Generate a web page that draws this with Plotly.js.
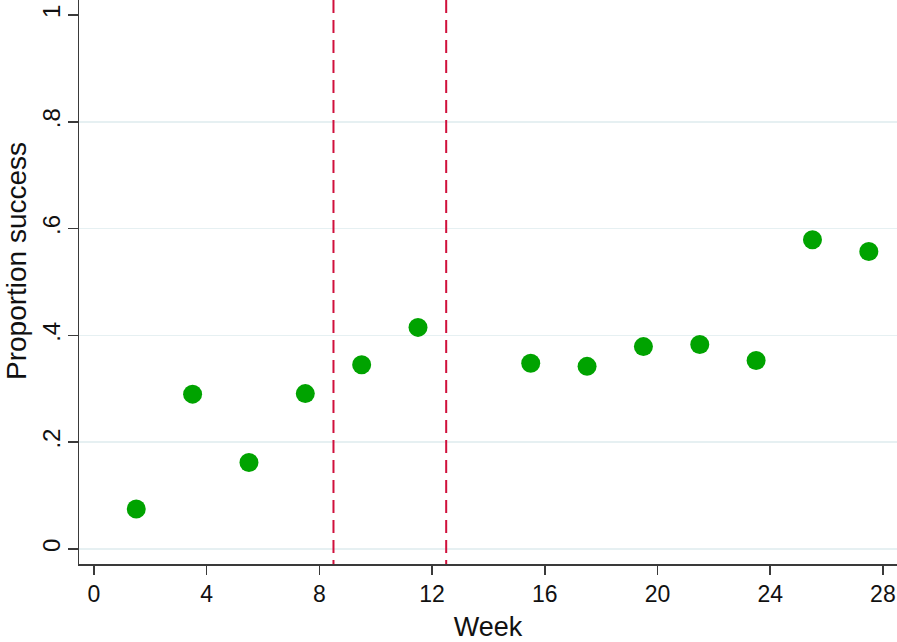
<!DOCTYPE html>
<html>
<head>
<meta charset="utf-8">
<script src="https://cdn.plot.ly/plotly-3.0.1.min.js"></script>
<style>html,body{margin:0;padding:0;background:#fff;}#chart{width:897px;height:642px;}</style>
</head>
<body>
<div id="chart"></div>
<script>
const weeks = [1.5, 3.5, 5.5, 7.5, 9.5, 11.5, 15.5, 17.5, 19.5, 21.5, 23.5, 25.5, 27.5];
const proportion = [0.075, 0.290, 0.162, 0.291, 0.345, 0.415, 0.348, 0.342, 0.379, 0.383, 0.353, 0.579, 0.557];
const phaseBreaks = [8.5, 12.5];
const xTicks = [0, 4, 8, 12, 16, 20, 24, 28];
const yTicks = [0, 0.2, 0.4, 0.6, 0.8, 1];
const yTickLabels = ['0', '.2', '.4', '.6', '.8', '1'];
const yGridTicks = [0, 0.2, 0.4, 0.6, 0.8];

const font = 'Liberation Sans, Arial, sans-serif';
const yRange = [-0.0281, 1.0281];

const traces = [
  {
    x: weeks, y: proportion, type: 'scatter', mode: 'markers',
    marker: {color: '#00a300', size: 19},
    hoverinfo: 'x+y', showlegend: false
  },
  {
    x: [weeks[0]], y: [null], yaxis: 'y2', type: 'scatter', mode: 'markers',
    showlegend: false, hoverinfo: 'skip'
  }
];

const shapes = phaseBreaks.map(v => ({
  type: 'line', xref: 'x', yref: 'paper', x0: v, x1: v, y0: 1, y1: 0,
  line: {color: '#d0103c', width: 2, dash: '13px,7px'}, layer: 'above'
}));

const layout = {
  width: 897, height: 642,
  margin: {l: 79, r: 0, t: 0, b: 78},
  paper_bgcolor: '#ffffff', plot_bgcolor: '#ffffff',
  font: {family: font, color: '#111111', size: 23},
  xaxis: {
    range: [-0.532, 28.5], tickvals: xTicks, ticktext: xTicks.map(String),
    showgrid: false, zeroline: false,
    showline: true, linecolor: '#3a3a3a', linewidth: 1.5,
    ticks: 'outside', ticklen: 9, tickwidth: 1.5, tickcolor: '#3a3a3a',
    tickfont: {family: font, size: 23, color: '#111111'},
    title: {text: 'Week', font: {family: font, size: 27, color: '#111111'}, standoff: 18}
  },
  yaxis: {
    range: yRange, tickvals: yTicks, ticktext: yTickLabels,
    showgrid: false, zeroline: false,
    showline: true, linecolor: '#3a3a3a', linewidth: 1.5,
    ticks: 'outside', ticklen: 10, tickwidth: 1.5, tickcolor: '#3a3a3a',
    tickangle: -90, ticklabelstandoff: -2,
    tickfont: {family: font, size: 24, color: '#111111'}
  },
  yaxis2: {
    range: yRange, overlaying: 'y', tickvals: yGridTicks, showticklabels: false,
    showgrid: true, gridcolor: '#e6f0f2', gridwidth: 1.5, zeroline: false,
    showline: false, ticks: '', layer: 'below traces'
  },
  shapes: shapes,
  annotations: [{
    text: 'Proportion success', xref: 'paper', yref: 'paper',
    x: (16 - 79) / 818, y: 1 - (261 / 564), xanchor: 'center', yanchor: 'middle',
    textangle: -90, showarrow: false,
    font: {family: font, size: 28, color: '#111111'}
  }]
};

Plotly.newPlot('chart', traces, layout, {displayModeBar: false, staticPlot: true});
</script>
</body>
</html>
